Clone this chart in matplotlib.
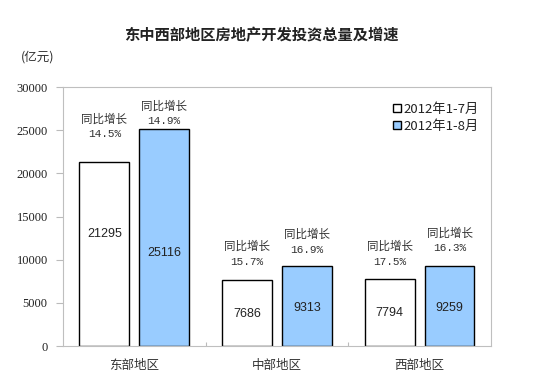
import matplotlib
matplotlib.use("Agg")
import matplotlib.pyplot as plt
import numpy as np

plt.rcParams['font.family'] = ['Noto Sans CJK SC', 'DejaVu Sans']

regions = ['东部地区', '中部地区', '西部地区']
jul = [21295, 7686, 7794]
aug = [25116, 9313, 9259]
jul_growth = ['14.5%', '15.7%', '17.5%']
aug_growth = ['14.9%', '16.9%', '16.3%']
series_names = ['2012年1-7月', '2012年1-8月']

# label placement (fraction of bar height for the value, px above bar top for growth)
jul_val_frac = [0.61, 0.48, 0.49]
aug_val_frac = [0.43, 0.47, 0.48]
jul_pct_off = [28, 18, 17]
aug_pct_off = [8, 16, 18]

fig = plt.figure(figsize=(5.5, 3.91), dpi=100)
ax = fig.add_axes([0.1145, 0.115, 0.778, 0.6624])

x = np.arange(len(regions))
w = 0.35
off = 0.21
b1 = ax.bar(x - off, jul, w, color='white', edgecolor='black', linewidth=1, label=series_names[0])
b2 = ax.bar(x + off, aug, w, color='#99ccff', edgecolor='black', linewidth=1, label=series_names[1])

for vals, pos, fr, growth, po in [(jul, x - off, jul_val_frac, jul_growth, jul_pct_off),
                                  (aug, x + off, aug_val_frac, aug_growth, aug_pct_off)]:
    for i in range(len(vals)):
        ax.text(pos[i], vals[i] * fr[i], str(vals[i]), ha='center', va='center',
                fontsize=9, family='Liberation Sans', color='#222222')
        ax.annotate(growth[i], (pos[i], vals[i]), xytext=(0, po[i] * 0.72),
                    textcoords='offset points', ha='center', va='center',
                    fontsize=8, family='Liberation Mono', color='#333333')
        ax.annotate('同比增长', (pos[i], vals[i]), xytext=(0, (po[i] + 15) * 0.72),
                    textcoords='offset points', ha='center', va='center',
                    fontsize=8.3, color='#333333')

ax.set_xlim(-0.5, 2.5)
ax.set_ylim(0, 30000)
ax.set_yticks(range(0, 30001, 5000))
ax.set_yticklabels([str(v) for v in range(0, 30001, 5000)])
for lab in ax.get_yticklabels():
    lab.set_fontfamily('Liberation Serif')
    lab.set_fontsize(9)
    lab.set_color('#222222')
ax.set_xticks([0.5, 1.5])
ax.set_xticklabels([])
ax.tick_params(axis='x', direction='in', length=3, color='#bbbbbb')
ax.tick_params(axis='y', direction='out', length=5, color='#bbbbbb', pad=6)
for i, r in enumerate(regions):
    ax.text(x[i], -2300, r, ha='center', va='center', fontsize=9, color='#333333')

for s in ax.spines.values():
    s.set_color('#bfbfbf')

leg = ax.legend(loc='upper left', bbox_to_anchor=(0.746, 0.98), frameon=False,
                fontsize=9.5, handlelength=0.6, handleheight=0.6, handletextpad=0.25,
                borderpad=0.3, labelspacing=0.3)
for t in leg.get_texts():
    t.set_color('#222222')

fig.text(0.476, 0.91, '东中西部地区房地产开发投资总量及增速', ha='center', va='center',
         fontsize=11, fontweight='bold', color='#222222')
fig.text(0.038, 0.853, '(亿元)', ha='left', va='center', fontsize=9, color='#333333')

fig.savefig('out.png', dpi=100)
